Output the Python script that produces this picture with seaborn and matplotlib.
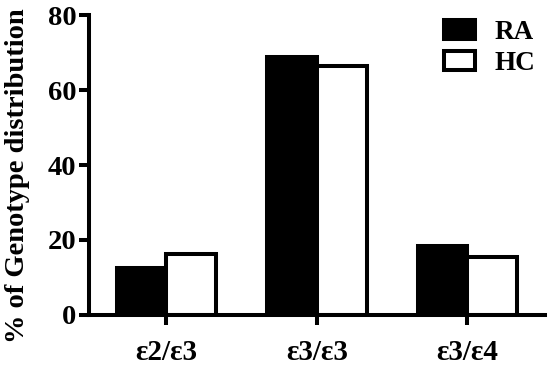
import matplotlib
matplotlib.use("Agg")
import matplotlib.pyplot as plt
import seaborn as sns
import pandas as pd

categories = ["ε2/ε3", "ε3/ε3", "ε3/ε4"]
groups = ["RA", "HC"]
ra_values = [12.4, 68.7, 18.5]
hc_values = [16.3, 66.4, 15.4]
y_ticks = [0, 20, 40, 60, 80]

df = pd.DataFrame({
    "genotype": categories * 2,
    "group": ["RA"] * 3 + ["HC"] * 3,
    "value": ra_values + hc_values,
})

sns.set_style("ticks")
plt.rcParams["font.family"] = ["Liberation Serif", "DejaVu Serif"]
plt.rcParams["font.weight"] = "bold"
plt.rcParams["text.color"] = "black"
plt.rcParams["axes.labelcolor"] = "black"
plt.rcParams["xtick.color"] = "black"
plt.rcParams["ytick.color"] = "black"
plt.rcParams["axes.edgecolor"] = "black"

fig = plt.figure(figsize=(5.5, 3.74), dpi=100)
ax = fig.add_axes([0.1618, 0.1578, 0.829, 0.802])

sns.barplot(data=df, x="genotype", y="value", hue="group", order=categories,
            hue_order=groups, palette=["black", "white"], edgecolor="black",
            linewidth=2.9, width=0.66, ax=ax, errorbar=None, saturation=1)

ax.set_ylim(0, 80)
ax.set_xlim(-0.515, 2.515)
ax.set_yticks(y_ticks)
ax.set_xlabel("")
ax.set_ylabel("% of Genotype distribution", fontsize=20.5, fontweight="bold")
ax.yaxis.set_label_coords(-0.13, 0.465)
sns.despine(ax=ax)
for s in ["left", "bottom"]:
    ax.spines[s].set_linewidth(2.9)
    ax.spines[s].set_color("black")
ax.tick_params(axis="both", width=2.9, length=7.5, color="black")
ax.tick_params(axis="y", labelsize=20.5, pad=1.5)
ax.tick_params(axis="x", labelsize=21, pad=10)
for lab in ax.get_xticklabels() + ax.get_yticklabels():
    lab.set_fontweight("bold")

handles, labels = ax.get_legend_handles_labels()
leg = ax.legend(handles, labels, loc="upper right", frameon=False, fontsize=19.5,
                handlelength=1.15, handleheight=0.7, handletextpad=0.7,
                labelspacing=0.2, borderaxespad=0.0, borderpad=0.2,
                bbox_to_anchor=(0.99, 1.0))
for t in leg.get_texts():
    t.set_fontweight("bold")
for p in leg.get_patches():
    p.set_linewidth(2.9)
    p.set_edgecolor("black")

fig.savefig("out.png", dpi=100)
